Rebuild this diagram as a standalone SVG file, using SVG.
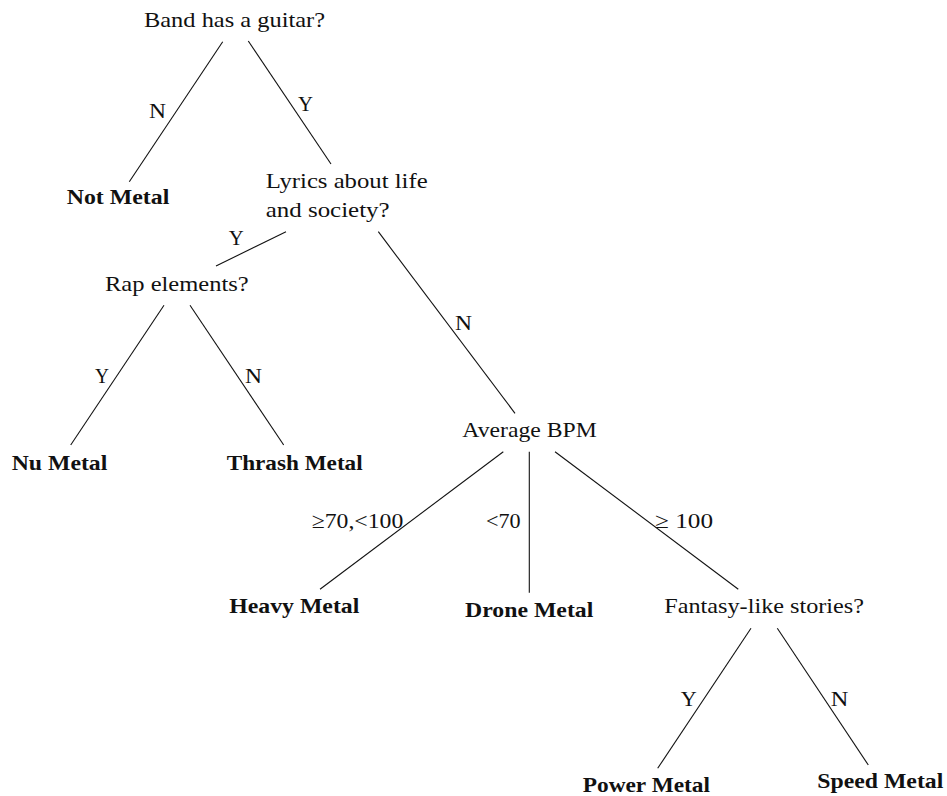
<svg xmlns="http://www.w3.org/2000/svg" width="947" height="796" viewBox="0 0 947 796">
  <style>
    text { font-family: "Liberation Serif", "DejaVu Serif", serif; font-size: 22px; fill: #111; }
    .leaf { font-weight: bold; }
    .edge line { stroke: #111; stroke-width: 1.1; fill: none; }
  </style>
  <rect width="947" height="796" fill="#fff"/>

  <!-- connectors with their branch labels -->
  <g id="edges" class="edge">
    <line x1="222.7" y1="41.7" x2="129.3" y2="181.7"/>
    <line x1="248.3" y1="41" x2="331" y2="164"/>
    <line x1="286" y1="231.7" x2="216" y2="266"/>
    <line x1="378.3" y1="231.7" x2="515" y2="413.3"/>
    <line x1="164" y1="305.3" x2="70.7" y2="445"/>
    <line x1="190" y1="305.3" x2="283.7" y2="445"/>
    <line x1="503.3" y1="451.7" x2="320" y2="589.3"/>
    <line x1="529.3" y1="451.7" x2="529.3" y2="592.7"/>
    <line x1="555" y1="451.7" x2="738.3" y2="589.3"/>
    <line x1="751" y1="628.3" x2="657.7" y2="768.3"/>
    <line x1="777.3" y1="628.3" x2="868.3" y2="765"/>
    <text x="149" y="118" textLength="17" lengthAdjust="spacingAndGlyphs">N</text>
    <text x="298" y="111" textLength="15" lengthAdjust="spacingAndGlyphs">Y</text>
    <text x="228.7" y="245" textLength="15" lengthAdjust="spacingAndGlyphs">Y</text>
    <text x="455" y="330" textLength="17" lengthAdjust="spacingAndGlyphs">N</text>
    <text x="95" y="382.7" textLength="14" lengthAdjust="spacingAndGlyphs">Y</text>
    <text x="245" y="382.7" textLength="17" lengthAdjust="spacingAndGlyphs">N</text>
    <text x="311.7" y="528.3" textLength="91.6" lengthAdjust="spacingAndGlyphs">≥70,&lt;100</text>
    <text x="486" y="528.3" textLength="34.7" lengthAdjust="spacingAndGlyphs">&lt;70</text>
    <text x="655" y="528.3" textLength="58" lengthAdjust="spacingAndGlyphs">≥ 100</text>
    <text x="680.7" y="705.7" textLength="16" lengthAdjust="spacingAndGlyphs">Y</text>
    <text x="830.7" y="705.7" textLength="17.6" lengthAdjust="spacingAndGlyphs">N</text>
  </g>

  <!-- decision nodes -->
  <g id="guitar">
    <text x="144" y="27" textLength="181" lengthAdjust="spacingAndGlyphs">Band has a guitar?</text>
  </g>
  <g id="lyrics">
    <text x="265.7" y="188" textLength="162" lengthAdjust="spacingAndGlyphs">Lyrics about life</text>
    <text x="265.7" y="217" textLength="124" lengthAdjust="spacingAndGlyphs">and society?</text>
  </g>
  <g id="rap">
    <text x="105" y="291" textLength="143.7" lengthAdjust="spacingAndGlyphs">Rap elements?</text>
  </g>
  <g id="bpm">
    <text x="462.3" y="436.7" textLength="134.4" lengthAdjust="spacingAndGlyphs">Average BPM</text>
  </g>
  <g id="fantasy">
    <text x="664.3" y="613.3" textLength="199.7" lengthAdjust="spacingAndGlyphs">Fantasy-like stories?</text>
  </g>

  <!-- leaf genres -->
  <g id="not-metal">
    <text class="leaf" x="66.7" y="204" textLength="102.6" lengthAdjust="spacingAndGlyphs">Not Metal</text>
  </g>
  <g id="nu-metal">
    <text class="leaf" x="11.7" y="470" textLength="95.6" lengthAdjust="spacingAndGlyphs">Nu Metal</text>
  </g>
  <g id="thrash-metal">
    <text class="leaf" x="226.7" y="470" textLength="136" lengthAdjust="spacingAndGlyphs">Thrash Metal</text>
  </g>
  <g id="heavy-metal">
    <text class="leaf" x="229.3" y="613.3" textLength="130" lengthAdjust="spacingAndGlyphs">Heavy Metal</text>
  </g>
  <g id="drone-metal">
    <text class="leaf" x="465" y="616.7" textLength="128.3" lengthAdjust="spacingAndGlyphs">Drone Metal</text>
  </g>
  <g id="power-metal">
    <text class="leaf" x="582.7" y="791.7" textLength="127.3" lengthAdjust="spacingAndGlyphs">Power Metal</text>
  </g>
  <g id="speed-metal">
    <text class="leaf" x="817.3" y="788.3" textLength="126" lengthAdjust="spacingAndGlyphs">Speed Metal</text>
  </g>
</svg>
